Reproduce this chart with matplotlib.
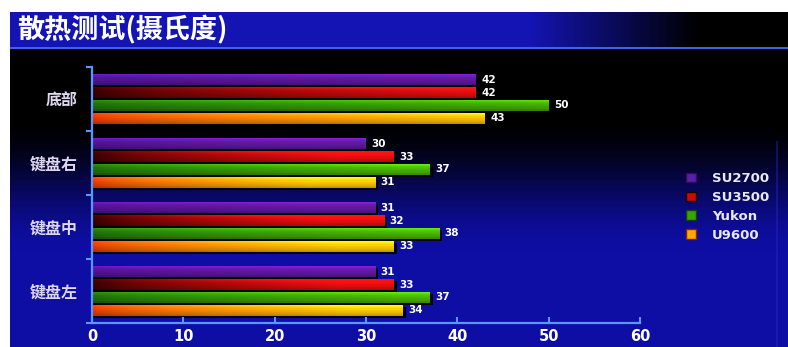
import numpy as np
import matplotlib
matplotlib.use("Agg")
import matplotlib.pyplot as plt
from matplotlib.patches import Patch

plt.rcParams['font.family'] = ['Noto Sans CJK SC', 'DejaVu Sans']

# ---- data ----
title = "散热测试(摄氏度)"
categories = ["键盘左", "键盘中", "键盘右", "底部"]   # bottom -> top
series = ["SU2700", "SU3500", "Yukon", "U9600"]
su2700 = [31, 31, 30, 42]
su3500 = [33, 32, 33, 42]
yukon = [37, 38, 37, 50]
u9600 = [34, 33, 31, 43]
values = [su2700, su3500, yukon, u9600]
xticks = [0, 10, 20, 30, 40, 50, 60]

# ---- styles ----
left_cols = [(80, 20, 150), (55, 0, 0), (30, 110, 10), (235, 55, 0)]
right_cols = [(100, 25, 165), (240, 15, 15), (75, 185, 0), (255, 205, 0)]
legend_cols = [(90, 30, 170), (200, 10, 10), (60, 160, 10), (250, 170, 0)]
W, H = 788, 347

fig = plt.figure(figsize=(W / 100, H / 100), dpi=100)

# ---- background ----
bg = np.ones((H, W, 3))
yy, xx = np.mgrid[0:H, 0:W]
blue = np.array([14, 14, 165]) / 255.0
t = np.clip((yy - 118) / 135.0, 0, 1)
t = t * t * (3 - 2 * t)
main = t[..., None] * blue
tb_blue = np.array([20, 20, 178]) / 255.0
f = np.clip(1 - (xx - 530) / 170.0, 0, 1)
title_bar = f[..., None] * tb_blue
panel = (xx >= 10) & (yy >= 12)
bg[panel] = main[panel]
tb = panel & (yy < 47)
bg[tb] = title_bar[tb]
line = panel & (yy >= 47) & (yy < 49)
bg[line] = np.array([70, 95, 235]) / 255.0
edge = (xx >= 776) & (xx < 778) & (yy > 140)
bg[edge] = bg[edge] * 0.6 + np.array([40, 40, 200]) / 255.0 * 0.4
bga = fig.add_axes([0, 0, 1, 1], zorder=-1)
bga.imshow(np.clip(bg, 0, 1), aspect='auto', interpolation='bilinear')
bga.axis('off')

fig.text(17 / W, 1 - 30 / H, title, color='white', fontsize=19.5,
         fontweight='bold', va='center', ha='left')

# ---- chart ----
ax = fig.add_axes([92 / W, 1 - 323 / H, (640 - 92) / W, (323 - 67) / H])
ax.set_facecolor('none')
ax.patch.set_alpha(0)

offsets = [0.3, 0.1, -0.1, -0.3]
bh = 0.17
vprof = np.array([1.3, 1.15, 1.05, 1.0, 0.95, 0.9, 0.85, 0.75])
for s in range(4):
    lc = np.array(left_cols[s]) / 255.0
    rc = np.array(right_cols[s]) / 255.0
    for i in range(len(categories)):
        v = values[s][i]
        c = i + offsets[s]
        ax.barh(c - 0.03, v + 0.35, height=bh, left=0, color='black', zorder=1)
        n = 80
        ramp = np.clip(np.linspace(0, 1, n) * (40.0 / max(v, 1)), 0, 1) ** 0.7
        row = lc[None, :] + (rc - lc)[None, :] * ramp[:, None]
        img = np.clip(row[None, :, :] * vprof[:, None, None], 0, 1)
        ax.imshow(img, extent=[0, v, c - bh / 2, c + bh / 2], aspect='auto',
                  origin='upper', interpolation='bilinear', zorder=2)
        ax.text(v + 0.6, c, str(v), color='white', fontsize=7.5,
                fontweight='bold', va='center', ha='left', zorder=3,
                family='DejaVu Sans')

ax.set_xlim(0, 60)
ax.set_ylim(-0.5, len(categories) - 0.5)
axc = '#5a96ff'
for sp in ['top', 'right']:
    ax.spines[sp].set_visible(False)
for sp in ['left', 'bottom']:
    ax.spines[sp].set_color(axc)
    ax.spines[sp].set_linewidth(1.6)
ax.set_xticks(xticks)
ax.set_xticklabels([str(x) for x in xticks], color='white', fontsize=10.5,
                   fontweight='bold', family='DejaVu Sans')
ax.tick_params(axis='x', direction='in', length=4, color=axc, width=1.5, pad=4)
ax.set_yticks(np.arange(len(categories)))
ax.set_yticklabels(categories, color='#e0d8f0', fontsize=11.5, fontweight='bold')
ax.tick_params(axis='y', length=0, pad=10)
ax.set_yticks(np.arange(-0.5, len(categories), 1.0), minor=True)
ax.tick_params(axis='y', which='minor', direction='out', length=4, color=axc, width=1.5)

handles = [Patch(facecolor=np.array(legend_cols[s]) / 255.0,
                 edgecolor=np.array(left_cols[s]) / 255.0 * 0.6, label=series[s])
           for s in range(4)]
leg = ax.legend(handles=handles, loc='upper left',
                bbox_to_anchor=(686 / W, 1 - 172 / H), bbox_transform=fig.transFigure,
                frameon=False, borderpad=0, borderaxespad=0,
                handlelength=0.75, handleheight=0.75, handletextpad=1.2,
                labelspacing=0.45, prop={'family': 'DejaVu Sans', 'weight': 'bold', 'size': 9.5})
for txt in leg.get_texts():
    txt.set_color('#e8e8f8')

fig.savefig('out.png', dpi=100)
